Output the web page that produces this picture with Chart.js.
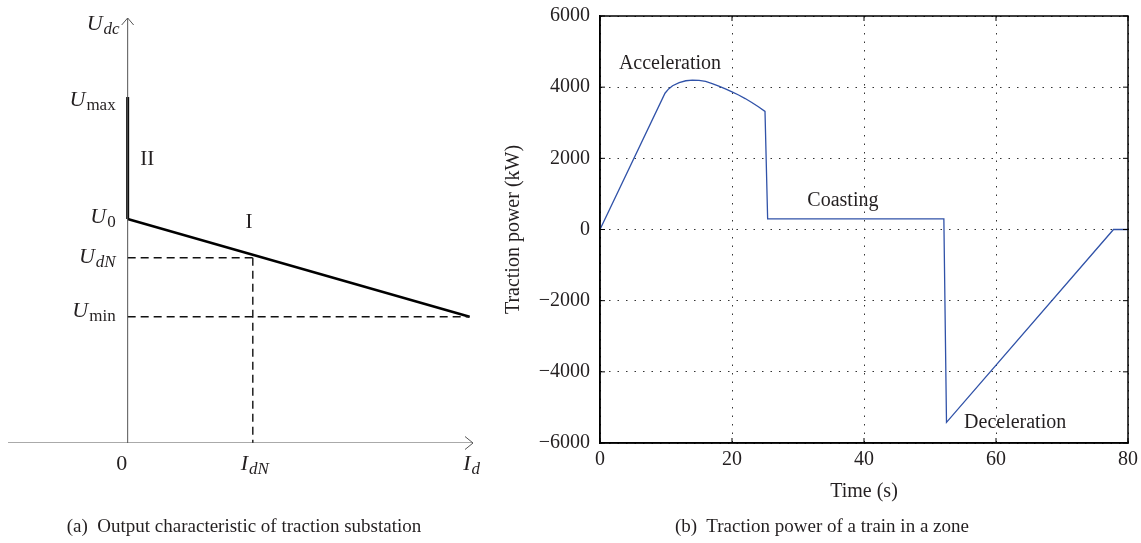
<!DOCTYPE html>
<html>
<head>
<meta charset="utf-8">
<script src="https://cdn.jsdelivr.net/npm/chart.js@4.4.1/dist/chart.umd.min.js"></script>
<style>
  body { margin: 0; background: #fff; width: 1141px; height: 543px; position: relative; overflow: hidden; font-family: "Liberation Serif", serif; color: #231f20; }
  .box { position: absolute; top: 0; height: 543px; }
  #boxA { left: 0; width: 500px; }
  #boxB { left: 500px; width: 641px; }
  .cap { position: absolute; top: 515px; width: 600px; text-align: center; font-size: 19px; white-space: pre; }
</style>
</head>
<body>
<div class="box" id="boxA"><canvas id="chartA"></canvas></div>
<div class="box" id="boxB"><canvas id="chartB"></canvas></div>
<div class="cap" style="left:-56px">(a)  Output characteristic of traction substation</div>
<div class="cap" style="left:522px">(b)  Traction power of a train in a zone</div>
<script>
// ---- panel (a): output characteristic (schematic, arbitrary units) ----
const currentMarks = [0, 0.366, 1];              // 0, I_dN, I_d
const currentNames = [['0', ''], ['I', 'dN'], ['I', 'd']];
const voltageMarks = [5.27, 8.14, 4.36, 2.97];   // U_0, U_max, U_dN, U_min
const voltageNames = [['U', '0'], ['U', 'max'], ['U', 'dN'], ['U', 'min']];
const regionNames = ['I', 'II'];

// ---- panel (b): traction power of a train ----
const time  = [0, 9.85, 10.4, 11, 12, 13, 14, 15, 16, 17, 18, 19, 20, 21, 22, 23, 24, 25, 25.4, 52.1, 52.5, 77.8, 80];
const power = [0, 3830, 3950, 4040, 4130, 4180, 4200, 4190, 4160, 4100, 4030, 3950, 3870, 3780, 3680, 3570, 3450, 3320, 300, 300, -5420, 0, 0];
const timeTicks  = [0, 20, 40, 60, 80];
const powerTicks = [-6000, -4000, -2000, 0, 2000, 4000, 6000];
const phaseNames = ['Acceleration', 'Coasting', 'Deceleration'];
const phaseTime  = [10.6, 36.8, 62.9];
const phasePower = [4660, 810, -5420];

const ink = '#231f20';
const serif = "'Liberation Serif'";

function seg(x1, y1, x2, y2, color, width, dash) {
  return {
    data: [{x: x1, y: y1}, {x: x2, y: y2}],
    showLine: true, borderColor: color, borderWidth: width,
    borderDash: dash || [], pointRadius: 0, fill: false
  };
}

// label with a subscript, e.g. U_max
function subLabel(ctx, main, sub, x, y, align) {
  const mainFont = (main === '0' ? '' : 'italic ') + '22px ' + serif;
  const subFont = (/^(max|min|0)$/.test(sub) ? '' : 'italic ') + '17px ' + serif;
  ctx.font = mainFont;
  const w1 = ctx.measureText(main).width;
  ctx.font = subFont;
  const w2 = sub ? ctx.measureText(sub).width + 1 : 0;
  let x0 = x;
  if (align === 'right') x0 = x - w1 - w2;
  if (align === 'center') x0 = x - (w1 + w2) / 2;
  ctx.fillStyle = ink;
  ctx.textAlign = 'left';
  ctx.textBaseline = 'alphabetic';
  ctx.font = mainFont;
  ctx.fillText(main, x0, y);
  if (sub) {
    ctx.font = subFont;
    ctx.fillText(sub, x0 + w1 + 1, y + 4);
  }
}

const [U0, Umax, UdN, Umin] = voltageMarks;
const [, IdN, Id] = currentMarks;

const schematic = {
  id: 'schematic',
  afterDatasetsDraw(chart) {
    const {ctx, scales: {x, y}} = chart;
    const ox = x.getPixelForValue(0), oy = y.getPixelForValue(0);
    const tipX = x.getPixelForValue(x.max), tipY = y.getPixelForValue(y.max);
    ctx.save();
    ctx.strokeStyle = '#555';
    ctx.lineWidth = 1;
    ctx.beginPath();
    ctx.moveTo(tipX - 8, oy - 6.5); ctx.lineTo(tipX, oy); ctx.lineTo(tipX - 8, oy + 6.5);
    ctx.moveTo(ox - 6, tipY + 7); ctx.lineTo(ox, tipY); ctx.lineTo(ox + 6, tipY + 7);
    ctx.stroke();
    subLabel(ctx, 'U', 'dc', ox - 41, tipY + 12, 'left');
    const dy = [4, 9, 5, 0];
    voltageMarks.forEach((v, i) => {
      subLabel(ctx, voltageNames[i][0], voltageNames[i][1], ox - 12, y.getPixelForValue(v) + dy[i], 'right');
    });
    currentMarks.forEach((v, i) => {
      subLabel(ctx, currentNames[i][0], currentNames[i][1], x.getPixelForValue(v) + (i === 0 ? -6 : 2), oy + 27, 'center');
    });
    ctx.font = '21px ' + serif;
    ctx.textAlign = 'center';
    ctx.textBaseline = 'middle';
    ctx.fillStyle = ink;
    ctx.fillText(regionNames[0], x.getPixelForValue(0.355), y.getPixelForValue(5.2));
    ctx.fillText(regionNames[1], x.getPixelForValue(0.057), y.getPixelForValue(6.68));
    ctx.restore();
  }
};

new Chart(document.getElementById('chartA'), {
  type: 'scatter',
  data: {
    datasets: [
      seg(-0.35, 0, 1.01, 0, '#555', 1),
      seg(0, 0, 0, 10, '#555', 1),
      seg(0, UdN, IdN, UdN, '#111', 1.4, [8, 5]),
      seg(IdN, UdN, IdN, 0, '#111', 1.4, [8, 5]),
      seg(0, Umin, Id, Umin, '#111', 1.4, [8, 5]),
      seg(0, U0, Id, Umin, '#000', 2.4),
      seg(0, U0, 0, Umax, '#000', 3)
    ]
  },
  options: {
    animation: false,
    responsive: true,
    maintainAspectRatio: false,
    layout: {padding: {left: 8, right: 27, top: 18, bottom: 100}},
    plugins: {legend: {display: false}, tooltip: {enabled: false}},
    scales: {
      x: {type: 'linear', min: -0.35, max: 1.01, display: false},
      y: {type: 'linear', min: 0, max: 10, display: false}
    }
  },
  plugins: [schematic]
});

const frame = {
  id: 'frame',
  afterDatasetsDraw(chart) {
    const {ctx, chartArea: a, scales: {x, y}} = chart;
    ctx.save();
    ctx.strokeStyle = '#000';
    ctx.lineWidth = 1;
    ctx.beginPath();
    timeTicks.forEach(t => {
      const px = x.getPixelForValue(t);
      ctx.moveTo(px, a.bottom); ctx.lineTo(px, a.bottom - 5);
      ctx.moveTo(px, a.top); ctx.lineTo(px, a.top + 5);
    });
    powerTicks.forEach(p => {
      const py = y.getPixelForValue(p);
      ctx.moveTo(a.left, py); ctx.lineTo(a.left + 5, py);
      ctx.moveTo(a.right, py); ctx.lineTo(a.right - 5, py);
    });
    ctx.stroke();
    ctx.lineWidth = 1.5;
    ctx.strokeRect(a.left, a.top, a.right - a.left, a.bottom - a.top);
    ctx.font = '20px ' + serif;
    ctx.fillStyle = ink;
    ctx.textAlign = 'center';
    ctx.textBaseline = 'middle';
    phaseNames.forEach((n, i) => {
      ctx.fillText(n, x.getPixelForValue(phaseTime[i]), y.getPixelForValue(phasePower[i]));
    });
    ctx.restore();
  }
};

const tickFont = {family: serif, size: 20};
const minus = v => (v < 0 ? '\u2212' + Math.abs(v) : String(v));

new Chart(document.getElementById('chartB'), {
  type: 'line',
  data: {
    datasets: [{
      data: time.map((t, i) => ({x: t, y: power[i]})),
      borderColor: '#3052a8',
      borderWidth: 1.3,
      pointRadius: 0,
      tension: 0,
      fill: false
    }]
  },
  options: {
    animation: false,
    responsive: true,
    maintainAspectRatio: false,
    layout: {padding: {left: 2, right: 13, top: 16, bottom: 39}},
    plugins: {legend: {display: false}, tooltip: {enabled: false}},
    scales: {
      x: {
        type: 'linear', min: 0, max: 80,
        afterBuildTicks: s => { s.ticks = timeTicks.map(v => ({value: v})); },
        afterFit: s => { s.height = 61; s.paddingLeft = 0; s.paddingRight = 0; },
        ticks: {font: tickFont, color: ink, padding: 5, maxRotation: 0, autoSkip: false, callback: minus},
        grid: {color: '#333', lineWidth: 1, drawTicks: false},
        border: {color: '#000', width: 1.5, dash: [1.5, 7]},
        title: {display: true, text: 'Time (s)', font: {family: serif, size: 20}, color: ink, padding: 0}
      },
      y: {
        type: 'linear', min: -6000, max: 6000,
        afterBuildTicks: s => { s.ticks = powerTicks.map(v => ({value: v})); },
        afterFit: s => { s.width = 98; s.paddingTop = 0; s.paddingBottom = 0; },
        ticks: {font: tickFont, color: ink, padding: 10, autoSkip: false, callback: minus},
        grid: {color: '#333', lineWidth: 1, drawTicks: false},
        border: {color: '#000', width: 1.5, dash: [1.5, 7]},
        title: {display: true, text: 'Traction power (kW)', font: {family: serif, size: 20}, color: ink, padding: 0}
      }
    }
  },
  plugins: [frame]
});
</script>
</body>
</html>
